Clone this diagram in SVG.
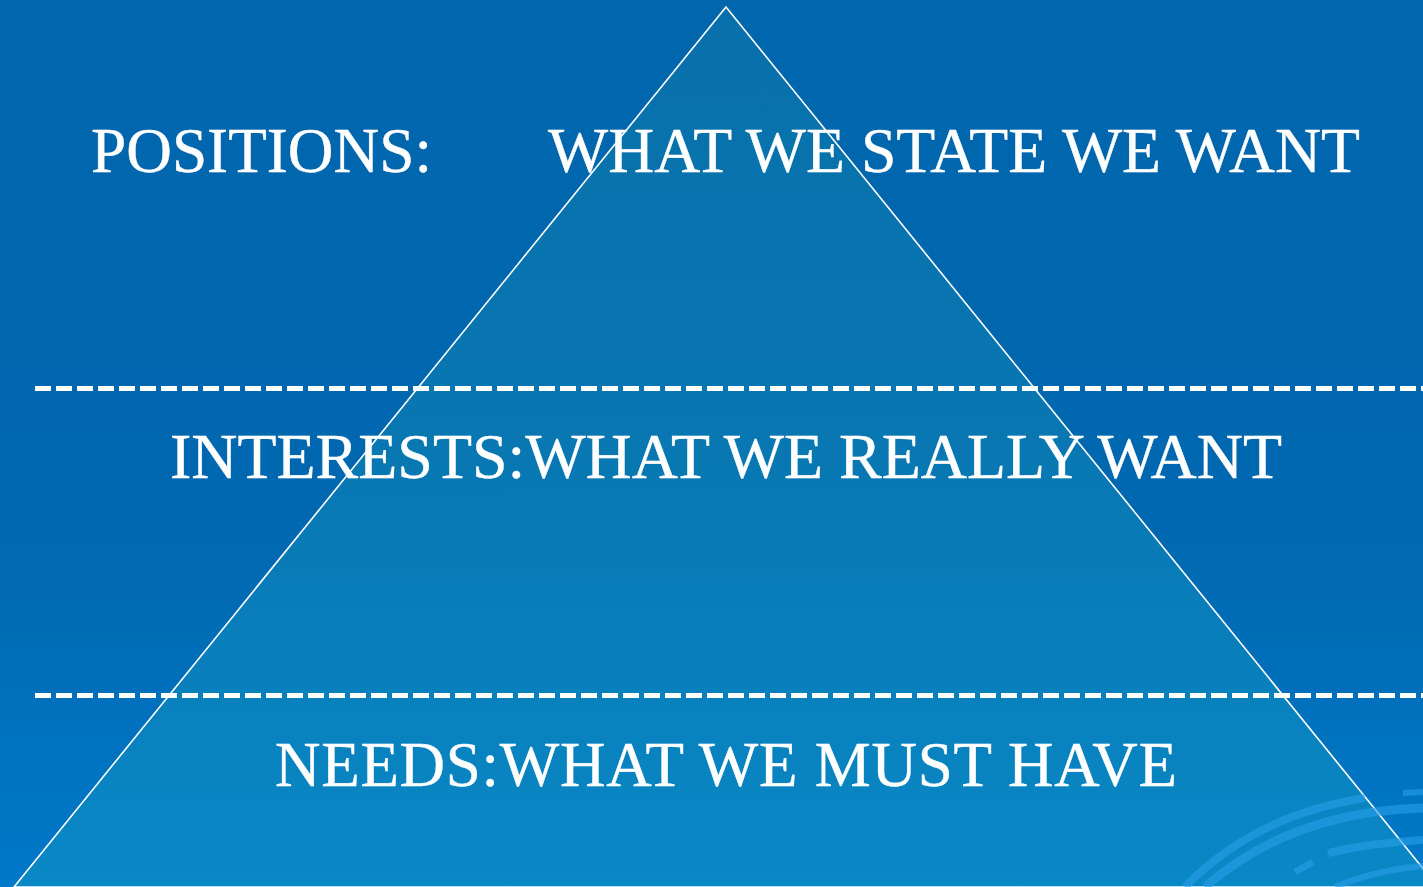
<svg xmlns="http://www.w3.org/2000/svg" width="1423" height="887" viewBox="0 0 1423 887">
  <defs>
    <linearGradient id="bg" x1="0" y1="0" x2="0" y2="1">
      <stop offset="0" stop-color="#0066ae"/>
      <stop offset="0.6" stop-color="#0068b0"/>
      <stop offset="1" stop-color="#0079c9"/>
    </linearGradient>
    <linearGradient id="tri" x1="0" y1="0" x2="0" y2="1">
      <stop offset="0" stop-color="#0870aa"/>
      <stop offset="0.5" stop-color="#0877b2"/>
      <stop offset="1" stop-color="#0988c6"/>
    </linearGradient>
    <style>
      .label { font-family: "Liberation Serif", "Times New Roman", serif; font-size: 63px; fill: #ffffff; stroke: #ffffff; stroke-width: 0.4; }
      .divider { stroke: #ffffff; stroke-width: 5; stroke-dasharray: 16 5; fill: none; }
      .swirl { fill: none; stroke: #2a9ee8; stroke-opacity: 0.6; stroke-linecap: butt; }
    </style>
  </defs>

  <!-- backdrop -->
  <rect x="0" y="0" width="1423" height="887" fill="url(#bg)"/>

  <!-- pyramid -->
  <g id="pyramid">
    <polygon points="726,7 14,887 1438,887" fill="url(#tri)" stroke="#ffffff" stroke-width="1.6"/>
  </g>

  <!-- decorative swirls, lower right -->
  <g id="swirls">
    <path class="swirl" stroke-width="8" d="M1185 887 Q1255 815 1365 798"/>
    <path class="swirl" stroke-width="9" d="M1205 887 Q1290 812 1423 808"/>
    <path class="swirl" stroke-width="6" d="M1403 793 L1423 792"/>
    <path class="swirl" stroke-width="8" d="M1328 853 Q1370 843 1423 840"/>
    <path class="swirl" stroke-width="7" d="M1295 872 L1313 862"/>
    <path class="swirl" stroke-width="6" d="M1335 887 Q1375 870 1423 866"/>
  </g>

  <!-- tier dividers -->
  <g id="connectors">
    <line class="divider" x1="35" y1="388.5" x2="1423" y2="388.5"/>
    <line class="divider" x1="35" y1="695.5" x2="1423" y2="695.5"/>
  </g>

  <!-- tier labels -->
  <g id="positions">
    <text class="label" x="91" y="172" textLength="341" lengthAdjust="spacingAndGlyphs">POSITIONS:</text>
    <text class="label" x="548" y="172" textLength="812" lengthAdjust="spacingAndGlyphs">WHAT WE STATE WE WANT</text>
  </g>
  <g id="interests">
    <text class="label" x="170" y="478" textLength="1112" lengthAdjust="spacingAndGlyphs">INTERESTS:WHAT WE REALLY WANT</text>
  </g>
  <g id="needs">
    <text class="label" x="275" y="786" textLength="902" lengthAdjust="spacing">NEEDS:WHAT WE MUST HAVE</text>
  </g>
</svg>
